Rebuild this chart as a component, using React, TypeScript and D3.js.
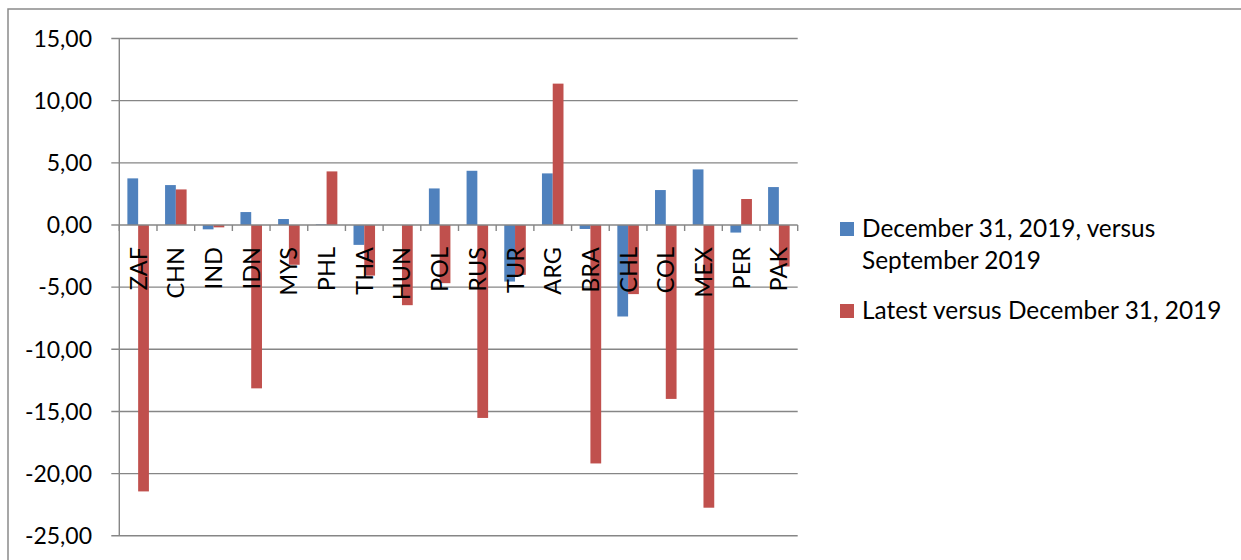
import React from "react";
import * as d3 from "d3";

const categories = ["ZAF","CHN","IND","IDN","MYS","PHL","THA","HUN","POL","RUS","TUR","ARG","BRA","CHL","COL","MEX","PER","PAK"];
const seriesNames = ["December 31, 2019, versus September 2019", "Latest versus December 31, 2019"];
const decVsSep = [3.75, 3.21, -0.35, 1.04, 0.48, 0.05, -1.6, 0, 2.94, 4.36, -4.55, 4.15, -0.32, -7.36, 2.81, 4.47, -0.61, 3.05];
const latestVsDec = [-21.43, 2.86, -0.19, -13.14, -3.2, 4.31, -4.07, -6.45, -4.68, -15.52, -4.01, 11.37, -19.18, -5.56, -13.99, -22.74, 2.09, -3.34];
const yTicks = [15, 10, 5, 0, -5, -10, -15, -20, -25];
const colors = ["#4F81BD", "#C0504D"];

const FONT = "Lato, 'Noto Sans', sans-serif";
const FS = 23;
const LFS = 24.4;

export default function App() {
  const W = 1241, H = 560;
  const x0 = 119.3, x1 = 797.7;
  const y = d3.scaleLinear().domain([-25, 15]).range([535.8, 38.5]);
  const xb = d3.scaleBand<string>().domain(categories).range([x0, x1]).paddingInner(0).paddingOuter(0);
  const xs = d3.scaleBand<string>().domain(["a", "b"]).range([0, xb.bandwidth()]).paddingInner(0).paddingOuter(0.75);
  const series = [decVsSep, latestVsDec];
  const fmt = (v: number) => d3.format(".2f")(v).replace(".", ",").replace("−", "-");
  const grid = "#868686";
  const boundaries = d3.range(categories.length + 1).map(i => x0 + i * xb.step());

  return (
    <div style={{ position: "absolute", left: 0, top: 0 }}>
      <svg width={W} height={H} style={{ display: "block" }} fontFamily={FONT}>
        <rect x={0} y={0} width={W} height={H} fill="#fff" />
        <rect x={8} y={9} width={W + 10} height={H + 10} fill="none" stroke="#8a8a8a" strokeWidth={1.5} />
        {yTicks.map(t => (
          <g key={t}>
            <line x1={x0 - 8} x2={t === 0 ? x0 : x1} y1={y(t)} y2={y(t)} stroke={grid} strokeWidth={1.4} />
            <text x={92} y={y(t)} dy="0.36em" textAnchor="end" fontSize={FS} fill="#000">{fmt(t)}</text>
          </g>
        ))}
        <line x1={x0} x2={x0} y1={y(15)} y2={y(-25)} stroke={grid} strokeWidth={1.4} />
        {series.map((vals, si) =>
          vals.map((v, i) => {
            const bx = (xb(categories[i]) as number) + (xs(si === 0 ? "a" : "b") as number);
            const top = Math.min(y(v), y(0));
            const h = Math.abs(y(v) - y(0));
            return <rect key={si + "-" + i} x={bx} y={top} width={xs.bandwidth()} height={h} fill={colors[si]} />;
          })
        )}
        <line x1={x0} x2={x1} y1={y(0)} y2={y(0)} stroke={grid} strokeWidth={1.4} />
        {boundaries.map((bx, i) => (
          <line key={i} x1={bx} x2={bx} y1={y(0)} y2={y(0) + 6} stroke={grid} strokeWidth={1.4} />
        ))}
        {categories.map(c => {
          const cx = (xb(c) as number) + xb.bandwidth() / 2;
          return (
            <text key={c} transform={`translate(${cx + 8.5},247) rotate(-90)`} textAnchor="end" fontSize={FS + 0.5} fill="#000">{c}</text>
          );
        })}
        <rect x={840} y={222} width={14} height={14} fill={colors[0]} />
        <text x={862} y={237} fontSize={LFS} fill="#000">December 31, 2019, versus</text>
        <text x={862} y={269} fontSize={LFS} fill="#000">September 2019</text>
        <rect x={840} y={304} width={14} height={14} fill={colors[1]} />
        <text x={862} y={319} fontSize={LFS} fill="#000">{seriesNames[1]}</text>
      </svg>
    </div>
  );
}
